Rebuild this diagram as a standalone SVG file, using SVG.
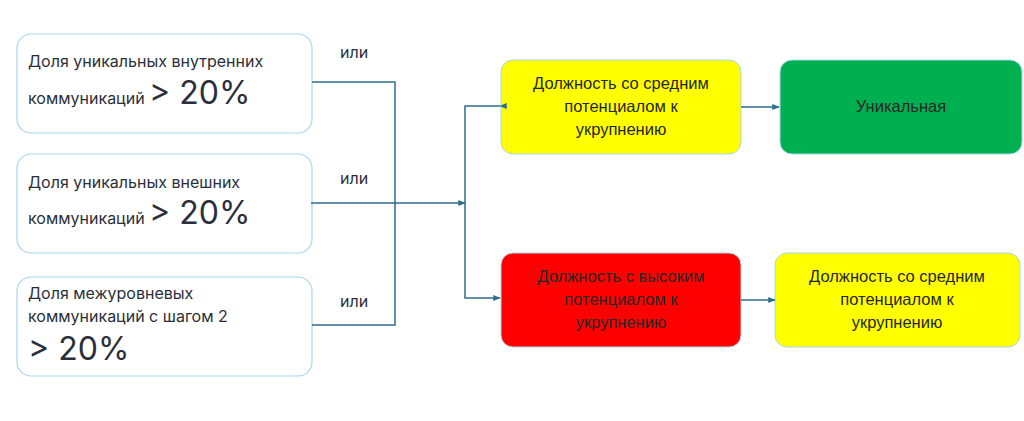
<svg xmlns="http://www.w3.org/2000/svg" width="1024" height="421" viewBox="0 0 1024 421">
<style>
.lb{fill:#fff;stroke:#a9d8ec;stroke-width:1.2}
.rb{stroke:#a9d8ec;stroke-width:1}
.t{font-family:"Inter","Noto Sans",sans-serif;font-size:16px;fill:#2a2f3a}
.big{font-family:"Inter","Noto Sans",sans-serif;font-size:32px;fill:#2a2f3a}
.r{font-family:"Liberation Sans",Arial,sans-serif;font-size:16.5px;fill:#262626;text-anchor:middle}
.c{fill:none;stroke:#2e6e8c;stroke-width:1.5}
</style>
<defs><marker id="a" viewBox="0 0 10 10" refX="9" refY="5" markerWidth="5" markerHeight="5" orient="auto"><path d="M0,1 L10,5 L0,9 z" fill="#2e6e8c"/></marker></defs>
<rect width="1024" height="421" fill="#fff"/>
<g id="n1"><rect class="lb" x="17" y="34" width="295" height="99" rx="14"/><text class="t" x="28" y="67">Доля уникальных внутренних</text><text class="t" x="28" y="104">коммуникаций <tspan class="big">&gt; 20%</tspan></text></g>
<g id="n2"><rect class="lb" x="17" y="154" width="295" height="99" rx="14"/><text class="t" x="28" y="188">Доля уникальных внешних</text><text class="t" x="28" y="224">коммуникаций <tspan class="big">&gt; 20%</tspan></text></g>
<g id="n3"><rect class="lb" x="17" y="277" width="295" height="99" rx="14"/><text class="t" x="28" y="299">Доля межуровневых</text><text class="t" x="28" y="322">коммуникаций с шагом 2</text><text class="big" x="28" y="360">&gt; 20%</text></g>
<g id="labels"><text class="t" x="340" y="58">или</text><text class="t" x="340" y="184">или</text><text class="t" x="340" y="307">или</text></g>
<g id="n4"><rect class="rb" x="501" y="60" width="240" height="94" rx="12" fill="#ffff00"/><text class="r" x="621" y="89">Должность со средним</text><text class="r" x="621" y="112">потенциалом к</text><text class="r" x="621" y="135">укрупнению</text></g>
<g id="n5"><rect class="rb" x="780" y="60" width="242" height="94" rx="12" fill="#00b050"/><text class="r" x="901" y="112">Уникальная</text></g>
<g id="n6"><rect class="rb" x="501" y="253" width="240" height="94" rx="12" fill="#ff0000"/><text class="r" x="621" y="282">Должность с высоким</text><text class="r" x="621" y="305">потенциалом к</text><text class="r" x="621" y="328">укрупнению</text></g>
<g id="n7"><rect class="rb" x="775" y="253" width="245" height="94" rx="12" fill="#ffff00"/><text class="r" x="897" y="282">Должность со средним</text><text class="r" x="897" y="305">потенциалом к</text><text class="r" x="897" y="328">укрупнению</text></g>
<g id="connectors">
<path class="c" d="M312,82 H395 V325 H312"/>
<path class="c" d="M311,203 H465" marker-end="url(#a)"/>
<path class="c" d="M500,106 H465 V298 H500" marker-start="url(#a)" marker-end="url(#a)"/>
<path class="c" d="M741,107 H779" marker-end="url(#a)"/>
<path class="c" d="M741,300 H775" marker-end="url(#a)"/>
</g>
</svg>
